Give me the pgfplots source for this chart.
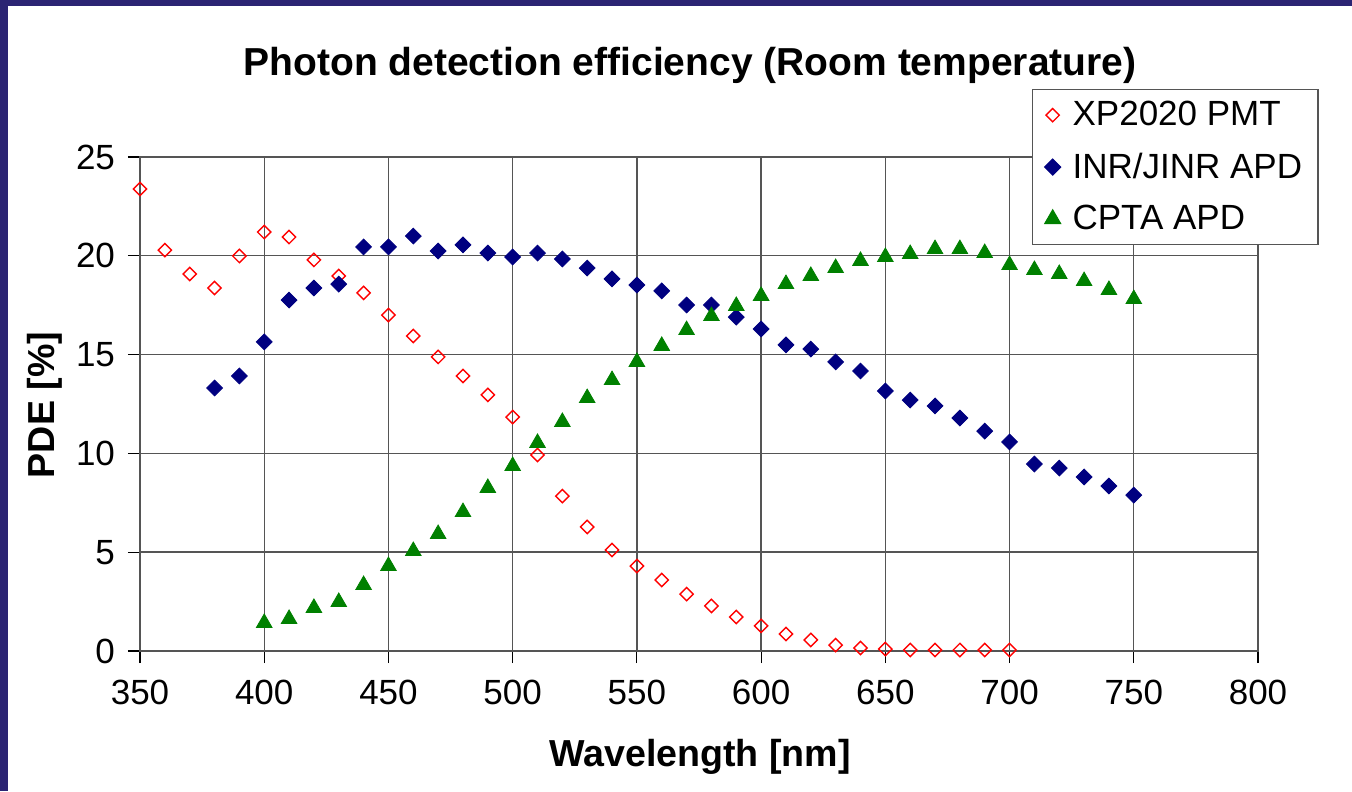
\documentclass[border=0pt]{standalone}
\usepackage{pgfplots}
\pgfplotsset{compat=1.18}
\usepackage{fontspec}
\setmainfont{Liberation Sans}
\definecolor{frame}{HTML}{2B2473}
\definecolor{pmt}{HTML}{FF0000}
\definecolor{inr}{HTML}{000080}
\definecolor{cpta}{HTML}{008000}
\definecolor{gridc}{HTML}{555555}
\begin{document}
\begin{tikzpicture}[x=1pt,y=1pt]
\useasboundingbox (0,0) rectangle (676,395.5);
\fill[frame] (0,0) rectangle (676,395.5);
\fill[white] (4,0) rectangle (676,392.5);
\begin{axis}[
  at={(70pt,70pt)}, anchor=south west,
  scale only axis, width=559pt, height=247pt,
  xmin=350, xmax=800, ymin=0, ymax=25,
  xtick={350,400,...,800}, ytick={0,5,...,25},
  grid=major,
  major grid style={draw=gridc, line width=0.7pt},
  axis line style={draw=gridc, line width=0.7pt},
  tick style={black, line width=0.6pt},
  tick align=outside, major tick length=6pt,
  xtick pos=bottom, ytick pos=left,
  /pgf/number format/assume math mode=true,
  /pgf/number format/1000 sep={},
  tick label style={font=\fontsize{17.5}{20}\selectfont},
  xticklabel style={yshift=-5pt},
  yticklabel style={xshift=-3pt},
  legend style={at={(0.798,1.138)}, anchor=north west,
    font=\fontsize{17.5}{20}\selectfont, draw=gridc, line width=0.6pt,
    inner xsep=6pt, inner ysep=4pt, row sep=8pt, column sep=4pt, cells={anchor=west}},
  legend cell align=left,
  clip=false,
]
\addplot[only marks, mark=square, mark size=2.35pt, mark options={draw=pmt, line width=0.7pt, fill=white, rotate=45}] coordinates {
(350,23.38)(360,20.29)(370,19.08)(380,18.37)(390,19.99)(400,21.2)(410,20.95)(420,19.79)(430,18.98)(440,18.12)
(450,17.0)(460,15.94)(470,14.88)(480,13.92)(490,12.96)(500,11.84)(510,9.92)(520,7.84)(530,6.28)(540,5.11)
(550,4.30)(560,3.59)(570,2.88)(580,2.28)(590,1.72)(600,1.27)(610,0.86)(620,0.56)(630,0.3)(640,0.15)
(650,0.1)(660,0.05)(670,0.05)(680,0.05)(690,0.05)(700,0.05)};
\addlegendentry{XP2020 PMT}
\addplot[only marks, mark=square*, mark size=2.8pt, mark options={draw=inr, fill=inr, rotate=45}] coordinates {
(380,13.31)(390,13.92)(400,15.64)(410,17.76)(420,18.37)(430,18.57)(440,20.45)(450,20.45)(460,21.0)(470,20.24)
(480,20.55)(490,20.14)(500,19.94)(510,20.14)(520,19.84)(530,19.38)(540,18.83)(550,18.52)(560,18.22)(570,17.51)
(580,17.51)(590,16.9)(600,16.3)(610,15.49)(620,15.28)(630,14.63)(640,14.17)(650,13.16)(660,12.70)(670,12.40)
(680,11.79)(690,11.13)(700,10.58)(710,9.46)(720,9.26)(730,8.81)(740,8.35)(750,7.89)};
\addlegendentry{INR/JINR APD}
\addplot[only marks, mark=triangle*, mark size=4.5pt, mark options={draw=cpta, fill=cpta}] coordinates {
(400,1.42)(410,1.62)(420,2.18)(430,2.48)(440,3.34)(450,4.30)(460,5.06)(470,5.92)(480,7.03)(490,8.25)
(500,9.36)(510,10.53)(520,11.59)(530,12.80)(540,13.71)(550,14.63)(560,15.44)(570,16.24)(580,16.95)(590,17.46)
(600,17.97)(610,18.57)(620,18.98)(630,19.38)(640,19.74)(650,19.94)(660,20.09)(670,20.34)(680,20.34)(690,20.14)
(700,19.53)(710,19.28)(720,19.08)(730,18.72)(740,18.27)(750,17.81)};
\addlegendentry{CPTA APD}
\end{axis}
\node[font=\bfseries\fontsize{19.5}{22}\selectfont] at (345,363) {Photon detection efficiency (Room temperature)};
\node[font=\bfseries\fontsize{18.8}{22}\selectfont, rotate=90] at (22.5,193) {PDE [\%]};
\node[font=\bfseries\fontsize{18.8}{22}\selectfont] at (350,17) {Wavelength [nm]};
\end{tikzpicture}
\end{document}
